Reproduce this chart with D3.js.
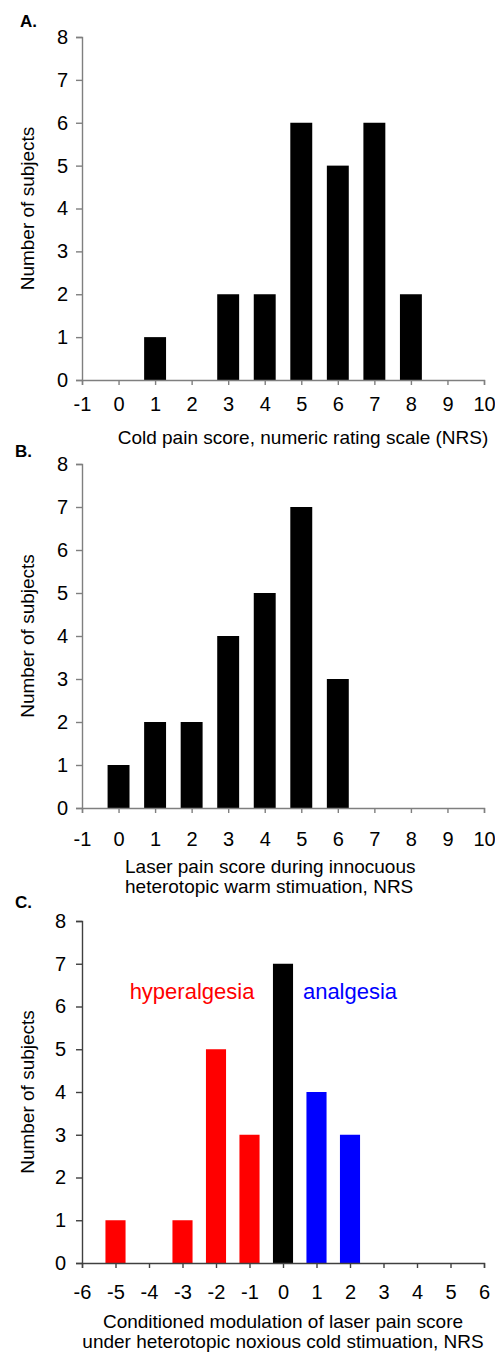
<!DOCTYPE html>
<html><head><meta charset="utf-8">
<script src="https://cdn.jsdelivr.net/npm/d3@7"></script>
<style>
html,body{margin:0;padding:0;background:#fff;}
text{font-family:"Liberation Sans",Arial,sans-serif;}
</style></head>
<body><svg id="c" width="495" height="1353"></svg>
<script>
// Panel A: cold pain score
const scoresA = [1, 3, 4, 5, 6, 7, 8];
const countsA = [1, 2, 2, 6, 5, 6, 2];
// Panel B: laser pain during warm stimulation
const scoresB = [0, 1, 2, 3, 4, 5, 6];
const countsB = [1, 2, 2, 4, 5, 7, 3];
// Panel C: conditioned modulation
const scoresC = [-5, -3, -2, -1, 0, 1, 2];
const countsC = [1, 1, 5, 3, 7, 4, 3];
const groupsC = ["hyper", "hyper", "hyper", "hyper", "none", "anal", "anal"];
const yTicks = [0, 1, 2, 3, 4, 5, 6, 7, 8];
const xTicksAB = d3.range(-1, 11);
const xTicksC = d3.range(-6, 7);

const colorMap = {none: "#000", hyper: "#ff0000", anal: "#0000ff"};
const svg = d3.select("#c");

function panel(cfg) {
  const x = d3.scaleLinear().domain(cfg.xDomain).range([82, 484]);
  const y = d3.scaleLinear().domain([0, 8]).range([cfg.y0, cfg.y8]);
  const g = svg.append("g");
  const bw = (x(1) - x(0)) * 0.6;
  g.selectAll("rect").data(cfg.scores).join("rect")
    .attr("x", (d) => x(d) - bw / 2)
    .attr("y", (d, i) => y(cfg.counts[i]))
    .attr("width", bw)
    .attr("height", (d, i) => y(0) - y(cfg.counts[i]))
    .attr("fill", (d, i) => cfg.groups ? colorMap[cfg.groups[i]] : "#000");

  const xa = g.append("g").attr("transform", `translate(0,${y(0)})`)
    .call(d3.axisBottom(x).tickValues(cfg.xTicks).tickSize(5).tickSizeOuter(5).tickFormat(d => String(d)));
  const ya = g.append("g").attr("transform", `translate(82,0)`)
    .call(d3.axisLeft(y).tickValues(yTicks).tickSize(6).tickSizeOuter(6).tickPadding(cfg.yPad).tickFormat(d => String(d)));
  [xa, ya].forEach(a => {
    a.attr("font-size", null).attr("font-family", null);
    a.select(".domain").attr("stroke", cfg.axisColor).attr("stroke-width", 1.4);
    a.selectAll(".tick line").attr("stroke", cfg.axisColor).attr("stroke-width", 1.4);
    a.selectAll(".tick text").attr("fill", "#000").style("font-size", "20px");
  });
  xa.selectAll(".tick text").attr("dy", "0.71em").attr("y", cfg.xLabOff);

  g.append("text").attr("transform", `translate(34,${(cfg.y0 + cfg.y8) / 2}) rotate(-90)`)
    .attr("text-anchor", "middle").style("font-size", "19px").text("Number of subjects");
  g.append("text").attr("x", cfg.labelX).attr("y", cfg.labelY)
    .style("font-size", "17px").style("font-weight", "bold").text(cfg.label);
  cfg.title.forEach((t, i) => {
    g.append("text").attr("x", cfg.titleX).attr("y", cfg.titleY + i * 19.5)
      .attr("text-anchor", cfg.titleAnchor).style("font-size", "19px").text(t);
  });
  return {g, x, y};
}

panel({xDomain: [-1, 10], y0: 380, y8: 37, scores: scoresA, counts: countsA, xTicks: xTicksAB, xLabOff: 17, yPad: 8, axisColor: "#7f7f7f",
  label: "A.", labelX: 20, labelY: 27, title: ["Cold pain score, numeric rating scale (NRS)"],
  titleX: 303, titleY: 444, titleAnchor: "middle"});
panel({xDomain: [-1, 10], y0: 808, y8: 464, scores: scoresB, counts: countsB, xTicks: xTicksAB, xLabOff: 24, yPad: 8, axisColor: "#7f7f7f",
  label: "B.", labelX: 15, labelY: 457, title: ["Laser pain score during innocuous", "heterotopic warm stimuation, NRS"],
  titleX: 125, titleY: 873, titleAnchor: "start"});
const pc = panel({xDomain: [-6, 6], y0: 1263, y8: 921, scores: scoresC, counts: countsC, groups: groupsC, xTicks: xTicksC, xLabOff: 22, yPad: 10, axisColor: "#404040",
  label: "C.", labelX: 15, labelY: 908, title: ["Conditioned modulation of laser pain score", "under heterotopic noxious cold stimuation, NRS"],
  titleX: 283, titleY: 1328, titleAnchor: "middle"});
pc.g.append("text").attr("x", 192).attr("y", 999).attr("text-anchor", "middle")
  .attr("fill", "#ff0000").style("font-size", "22px").text("hyperalgesia");
pc.g.append("text").attr("x", 350).attr("y", 999).attr("text-anchor", "middle")
  .attr("fill", "#0000ff").style("font-size", "22px").text("analgesia");
</script></body></html>
